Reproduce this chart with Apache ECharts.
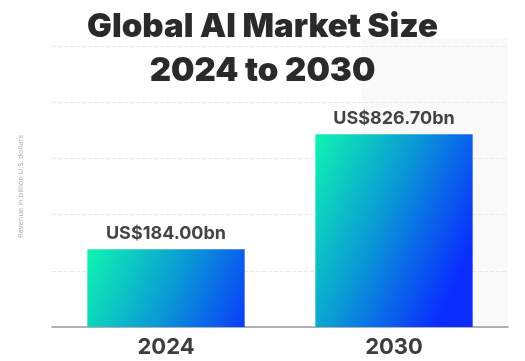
<!DOCTYPE html>
<html><head><meta charset="utf-8">
<script src="https://cdn.jsdelivr.net/npm/echarts@6/dist/echarts.min.js"></script>
<style>html,body{margin:0;padding:0;background:#fff}#c{width:525px;height:361px}</style>
</head><body><div id="c"></div>
<script>
const categories = ['2024', '2030'];
const values = [184.0, 826.7];
const valueLabels = ['US$184.00bn', 'US$826.70bn'];
const titleLines = ['Global AI Market Size', '2024 to 2030'];
const yAxisName = 'Revenue in billion U.S. dollars';

const Y_MIN = -250, Y_MAX = 1320, Y_INT = 314;

const chart = echarts.init(document.getElementById('c'), null, {renderer: 'canvas'});
function grad(x, y, w) {
  return new echarts.graphic.LinearGradient(x, y, x + w * 1.1, y + w * 0.5, [
    {offset: 0, color: '#0ff5b0'},
    {offset: 0.5, color: '#0a98d6'},
    {offset: 1, color: '#0a2cff'}
  ], true);
}
chart.setOption({
  animation: false,
  backgroundColor: '#fff',
  graphic: [{type: 'rect', z: -10, shape: {x: 362, y: 38, width: 146, height: 289}, style: {fill: '#f9f9f9'}, silent: true}],
  title: {
    text: titleLines.join('\n'), left: 'center', top: 0,
    textStyle: {fontFamily: 'Inter', fontWeight: 900, fontSize: 33, lineHeight: 44, color: '#2a2a2a'}
  },
  grid: {left: 52, right: 17, top: 46, bottom: 34},
  xAxis: {
    type: 'category', data: categories,
    axisTick: {show: false},
    axisLine: {onZero: false, lineStyle: {color: '#9a9a9a', width: 1.5}},
    axisLabel: {fontFamily: 'Inter', fontWeight: 700, fontSize: 22, color: '#3d3d3d', margin: 9}
  },
  yAxis: {
    type: 'value', min: Y_MIN, max: Y_MAX, interval: Y_INT,
    name: yAxisName, nameLocation: 'middle', nameGap: 27, nameRotate: 90,
    nameTextStyle: {fontFamily: 'Open Sans', fontSize: 7.5, color: '#a8a8a8'},
    axisLabel: {show: false}, axisLine: {show: false}, axisTick: {show: false},
    splitLine: {lineStyle: {color: '#e8e8e8', type: 'dashed', width: 1}}
  },
  series: [{
    type: 'custom',
    data: values.map((v, i) => [i, v]),
    encode: {x: 0, y: 1},
    renderItem: function (params, api) {
      const i = api.value(0);
      const top = api.coord([i, api.value(1)]);
      const base = api.coord([i, Y_MIN]);
      const w = api.size([1, 0])[0] * 0.69;
      const x0 = top[0] - w / 2;
      return {
        type: 'group',
        children: [
          {type: 'rect', shape: {x: x0, y: top[1], width: w, height: base[1] - top[1]},
           style: {fill: grad(x0, top[1], w)}},
          {type: 'text', x: top[0], y: top[1] - 7,
           style: {text: valueLabels[params.dataIndex], align: 'center', verticalAlign: 'bottom',
                   font: '700 18px Inter', fill: '#444'}}
        ]
      };
    }
  }]
});
</script></body></html>
